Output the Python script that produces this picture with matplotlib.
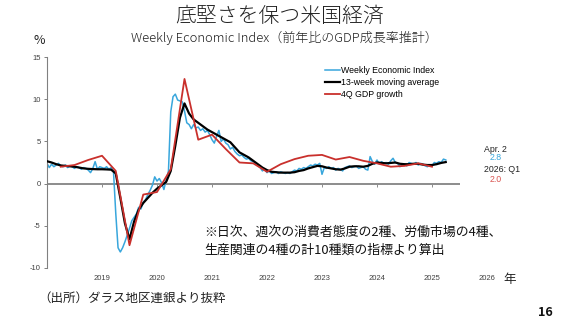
import matplotlib
matplotlib.use("Agg")
import matplotlib.pyplot as plt
import numpy as np

plt.rcParams['font.family'] = ['Noto Sans CJK JP', 'DejaVu Sans']

# Weekly Economic Index, read off roughly twice a month from Jan 2019
wei_start, wei_step = 2019.0, 1 / 24
wei = [2.4, 1.9, 2.3, 2.0, 2.2, 2.4, 2.1, 2.0, 2.2, 1.9, 2.1, 2.0,
       1.8, 2.0, 1.9, 1.7, 1.9, 1.8, 1.6, 1.3, 1.8, 2.6, 1.7, 2.0,
       1.9, 1.8, 2.0, 1.7, 1.9, 1.5, -3.5, -7.6, -8.1, -7.6, -6.9, -6.1,
       -5.3, -4.4, -4.0, -3.6, -2.8, -3.0, -2.2, -1.9, -1.3, -0.8, -0.2, 0.8,
       0.3, 0.6, 0.1, -0.7, 0.4, 1.5, 8.5, 10.3, 10.6, 9.9, 9.8, 9.7,
       8.6, 7.2, 7.0, 6.5, 7.0, 6.6, 6.7, 6.3, 6.5, 6.1, 6.3, 5.8,
       5.2, 4.8, 5.6, 6.3, 5.0, 5.3, 4.8, 4.6, 4.1, 4.3, 3.8, 3.5,
       3.3, 3.4, 3.1, 2.9, 3.0, 2.7, 2.6, 2.4, 2.1, 1.9, 1.5, 1.7,
       1.3, 1.5, 1.2, 1.3, 1.4, 1.2, 1.4, 1.3, 1.2, 1.3, 1.2, 1.4,
       1.6, 1.5, 1.8, 1.7, 1.9, 1.8, 2.0, 2.2, 2.1, 2.3, 2.2, 2.4,
       1.1, 1.9, 1.8, 2.0, 1.8, 1.9, 1.6, 1.8, 1.7, 1.5, 1.9, 2.0,
       2.1, 1.9, 2.0, 2.1, 1.8, 1.9, 2.0, 1.7, 1.6, 3.2, 2.6, 2.3,
       2.8, 2.3, 2.6, 2.4, 2.5, 2.3, 2.7, 3.0, 2.5, 2.4, 2.0, 2.2,
       2.3, 2.1, 2.5, 2.4, 2.3, 2.5, 2.2, 2.4, 2.3, 2.1, 2.0, 2.2,
       2.1, 2.5, 2.4, 2.6, 2.5, 2.9, 2.8]

# 13-week moving average, monthly readings
ma_start, ma_step = 2019.0, 1 / 12
ma13 = [2.65, 2.5, 2.3, 2.15, 2.1, 2.05, 2.0, 1.9, 1.8, 1.75, 1.72, 1.7,
        1.7, 1.68, 1.65, 1.2, -1.7, -4.7, -6.6, -4.5, -3.1, -2.3, -1.7, -1.1,
        -0.6, -0.2, 0.2, 1.5, 4.5, 7.8, 9.5, 8.3, 7.6, 7.2, 6.8, 6.4,
        6.1, 5.8, 5.5, 5.2, 4.9, 4.3, 3.7, 3.4, 3.1, 2.7, 2.3, 1.9,
        1.6, 1.4, 1.35, 1.3, 1.3, 1.3, 1.35, 1.5, 1.6, 1.8, 1.95, 2.1,
        2.05, 1.9, 1.8, 1.7, 1.65, 1.8, 2.0, 2.05, 2.05, 2.0, 2.1, 2.35,
        2.5, 2.45, 2.4, 2.45, 2.5, 2.35, 2.3, 2.3, 2.35, 2.35, 2.25, 2.2,
        2.2, 2.3, 2.45, 2.55]

# 4Q GDP growth, plotted at quarter ends
gdp_q = [2019.25, 2019.5, 2019.75, 2020.0, 2020.25, 2020.5, 2020.75, 2021.0,
         2021.25, 2021.5, 2021.75, 2022.0, 2022.25, 2022.5, 2022.75, 2023.0,
         2023.25, 2023.5, 2023.75, 2024.0, 2024.25, 2024.5, 2024.75, 2025.0,
         2025.25, 2025.5, 2025.75, 2026.0]
gdp = [2.0, 2.2, 2.8, 3.3, 1.5, -7.3, -1.3, -1.0,
       1.7, 12.4, 5.2, 5.8, 4.1, 2.5, 2.4, 1.4,
       2.3, 2.9, 3.3, 3.4, 2.85, 3.15, 2.7, 2.4,
       2.0, 2.1, 2.4, 2.0]

year_labels = ['2019', '2020', '2021', '2022', '2023', '2024', '2025', '2026']
yticks = [-10, -5, 0, 5, 10, 15]

BLUE = '#38a6dc'
RED = '#c9302c'

W, H = 563, 325
fig = plt.figure(figsize=(W / 100, H / 100), dpi=100)

def fx(px):
    return px / W

def fy(py):
    return 1 - py / H

x0_px, px_per_year = 47, 55
xmin, xmax = 2019.0, 2027.3
ax = fig.add_axes([fx(x0_px), fy(268), (xmax - xmin) * px_per_year / W, (268 - 57) / H])
ax.set_xlim(xmin, xmax)
ax.set_ylim(-10, 15)

wei_x = wei_start + np.arange(len(wei)) * wei_step
ma_x = ma_start + np.arange(len(ma13)) * ma_step

ax.hlines(0, xmin, 2026.5, color='#8c8c8c', lw=1.4, zorder=1)
ax.vlines(np.arange(2020, 2027), -0.45, 0, color='#8c8c8c', lw=0.7, zorder=1)

l1, = ax.plot(wei_x, wei, color=BLUE, lw=1.1, zorder=2, label='Weekly Economic Index')
l2, = ax.plot(ma_x, ma13, color='black', lw=1.6, zorder=3, label='13-week moving average')
l3, = ax.plot(gdp_q, gdp, color=RED, lw=1.3, zorder=4, label='4Q GDP growth')

for s in ['top', 'right', 'bottom']:
    ax.spines[s].set_visible(False)
ax.spines['left'].set_color('#808080')
ax.spines['left'].set_linewidth(0.8)

ax.set_yticks(yticks)
ax.set_yticklabels([str(v) for v in yticks], family='Liberation Sans', fontsize=5.5, color='#404040')
ax.tick_params(axis='y', length=2.5, width=0.7, color='#808080', pad=2)
ax.set_xticks(np.arange(2020, 2028))
ax.set_xticklabels(year_labels, family='Liberation Sans', fontsize=5.5, color='#404040')
ax.tick_params(axis='x', length=0, pad=5)

leg = fig.legend(handles=[l1, l2, l3], loc='upper left', bbox_to_anchor=(fx(325), fy(66)),
                 frameon=False, handlelength=1.7, handletextpad=0.1,
                 labelspacing=0.35, borderpad=0, borderaxespad=0,
                 prop={'family': 'Liberation Sans', 'size': 6.3})

lab = dict(family='Liberation Sans', fontsize=6.3, va='center', ha='left')
fig.text(fx(484), fy(149), 'Apr. 2', color='#222222', **lab)
fig.text(fx(490), fy(158), '2.8', color=BLUE, **lab)
fig.text(fx(484), fy(169), '2026: Q1', color='#222222', **lab)
fig.text(fx(490), fy(179), '2.0', color='#d9534f', **lab)

fig.text(fx(280), fy(16), '底堅さを保つ米国経済', fontsize=15, fontweight='light',
         ha='center', va='center', color='#222222')
fig.text(fx(284), fy(38), 'Weekly Economic Index（前年比のGDP成長率推計）', fontsize=9.4,
         fontweight='light', ha='center', va='center', color='#222222')
fig.text(fx(33), fy(41), '%', fontsize=9, ha='left', va='center', color='#222222')

fig.text(fx(204), fy(232), '※日次、週次の消費者態度の2種、労働市場の4種、', fontsize=9.3,
         ha='left', va='center', color='#111111')
fig.text(fx(204), fy(250), '生産関連の4種の計10種類の指標より算出', fontsize=9.3,
         ha='left', va='center', color='#111111')

fig.text(fx(503), fy(279), '年', fontsize=9, ha='left', va='center', color='#222222')
fig.text(fx(38), fy(298), '（出所）ダラス地区連銀より抜粋', fontsize=9, ha='left', va='center', color='#222222')
fig.text(fx(553), fy(313), '16', fontsize=9, fontweight='bold', ha='right', va='center', color='#111111')

fig.savefig('out.png', dpi=100)
